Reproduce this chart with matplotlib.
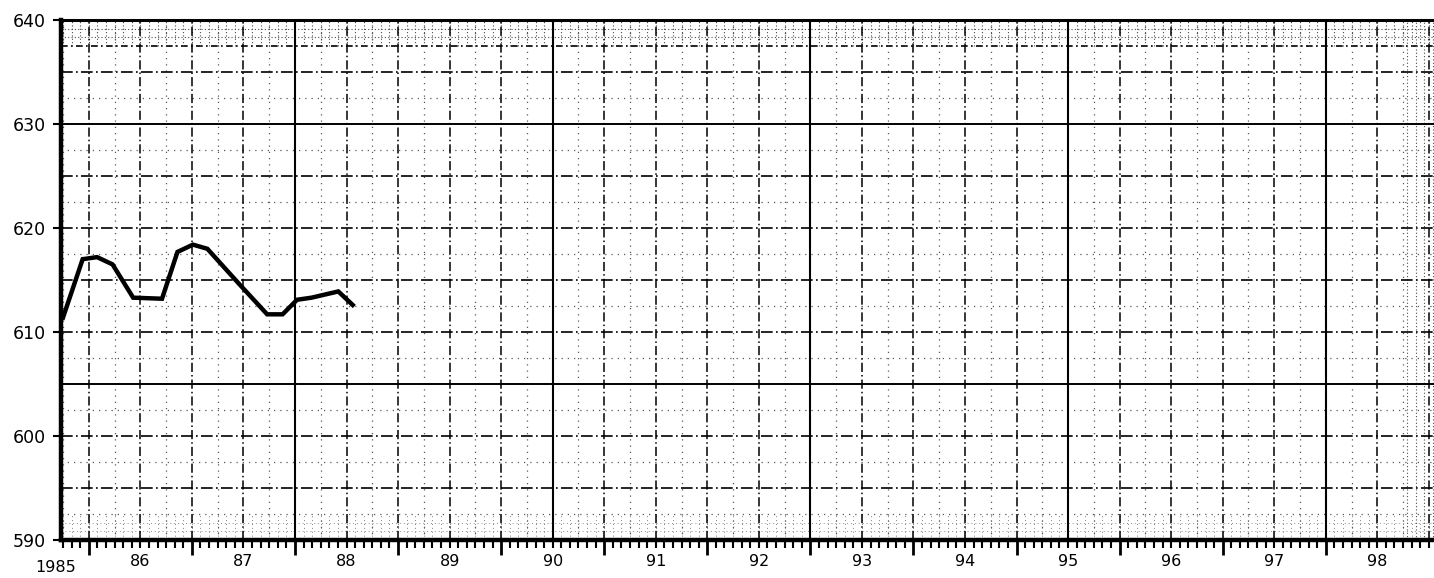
import numpy as np
import matplotlib
matplotlib.use("Agg")
import matplotlib.pyplot as plt
import matplotlib.transforms as mtransforms

# series (decimal year, value)
dates = [1985.75, 1985.94, 1986.08, 1986.23, 1986.43, 1986.71, 1986.86, 1987.01,
         1987.15, 1987.46, 1987.73, 1987.88, 1988.02, 1988.16, 1988.42, 1988.56]
values = [611.4, 617.0, 617.2, 616.5, 613.3, 613.2, 617.7, 618.4,
          618.0, 614.6, 611.7, 611.7, 613.1, 613.3, 613.9, 612.6]

year_labels = ["1985", "86", "87", "88", "89", "90", "91", "92",
               "93", "94", "95", "96", "97", "98"]
y_ticks = [590, 600, 610, 620, 630, 640]

x0, x1 = 1985.73, 1999.05
y0, y1 = 590, 640

fig = plt.figure(figsize=(14.34, 5.78), dpi=100)
ax = fig.add_axes([61 / 1434, 38 / 578, 1 - 61 / 1434, 520 / 578])
ax.set_xlim(x0, x1)
ax.set_ylim(y0, y1)

# graph paper: quarter-year dotted, half-year dash-dot, every 2.5 years solid
quarters = np.arange(1985.75, x1, 0.25)
halves = np.arange(1986.0, x1, 0.5)
for q in quarters:
    if abs(q * 2 - round(q * 2)) > 1e-6:
        ax.axvline(q, color="0.35", lw=0.9, ls=(0, (1, 4)), zorder=1)
for h in halves:
    solid = abs(((h - 1988.0) / 2.5) - round((h - 1988.0) / 2.5)) < 1e-6
    ax.axvline(h, color="black", lw=1.5 if solid else 1.1,
               ls="-" if solid else (0, (6, 2, 1, 2)), zorder=2)

for v in np.arange(592.5, 640, 2.5):
    if v % 5 == 0:
        solid = v in (630, 605)
        ax.axhline(v, color="black", lw=1.4 if solid else 1.2,
                   ls="-" if solid else (0, (7, 2, 1, 2)), zorder=2)
    else:
        heavy = v in (637.5,)
        ax.axhline(v, color="black" if heavy else "0.35", lw=1.2 if heavy else 0.9,
                   ls=(0, (4, 2, 1, 2)) if heavy else (0, (1, 4)), zorder=1)

# dense fine grid bands (top strip, bottom strip, right edge)
months = np.arange(1985.75, x1, 1 / 12)
ax.vlines(months, 637.5, 640, colors="0.3", lw=0.8, linestyles=(0, (1, 2)), zorder=1)
ax.vlines(months, 590, 592.5, colors="0.5", lw=0.7, linestyles=(0, (1, 3)), zorder=1)
for v in (638.33, 639.17):
    ax.axhline(v, color="0.3", lw=0.8, ls=(0, (1, 2)), zorder=1)
for v in (590.83, 591.67):
    ax.axhline(v, color="0.55", lw=0.7, ls=(0, (1, 3)), zorder=1)
ax.vlines(np.arange(1998.79, x1, 1 / 12), y0, y1, colors="0.3", lw=0.8,
          linestyles=(0, (1, 2)), zorder=1)

ax.plot(dates, values, color="black", lw=3.2, solid_joinstyle="miter", zorder=5)

# spines
for side in ("left", "bottom"):
    ax.spines[side].set_linewidth(3.2)
ax.spines["top"].set_linewidth(2.2)
ax.spines["right"].set_visible(False)

# y axis
ax.set_yticks(y_ticks)
ax.set_yticklabels([str(t) for t in y_ticks])
ax.tick_params(axis="y", length=6, width=1.5, pad=5, labelsize=12.5)

# x axis: long year ticks, short monthly ticks, labels mid-year
ax.set_xticks(np.arange(1986, 1999))
ax.set_xticklabels([])
ax.set_xticks(months, minor=True)
ax.tick_params(axis="x", which="major", length=11, width=2, direction="out")
ax.tick_params(axis="x", which="minor", length=6, width=1.5, direction="out")

trans = mtransforms.blended_transform_factory(ax.transData, fig.transFigure)
for i, lab in enumerate(year_labels):
    xpos = 1985.68 if i == 0 else 1985.5 + i
    ax.text(xpos, 16 / 578 if i else 11 / 578, lab, transform=trans,
            ha="center", va="center", fontsize=11.5, clip_on=False)

fig.savefig("out.png", dpi=100)
